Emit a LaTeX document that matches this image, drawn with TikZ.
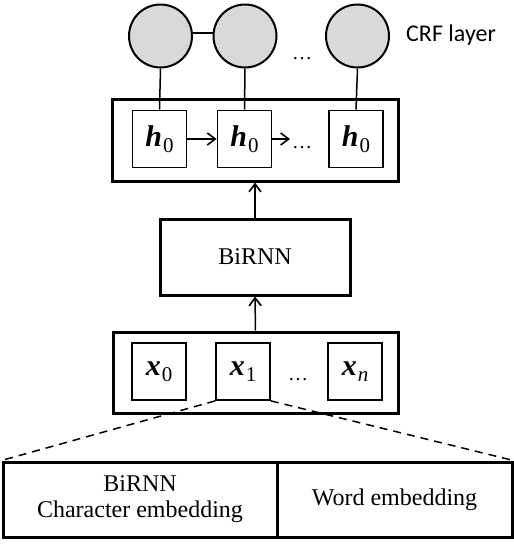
\documentclass[tikz,border=0pt]{standalone}
\usepackage{fontspec}
\setmainfont{Liberation Serif}
\newfontfamily\crffont{Carlito}
\usetikzlibrary{arrows.meta}
\newcommand{\vsym}[2]{\textbf{\textit{#1}}\kern1pt\raisebox{-6pt}{\fontsize{21}{23}\selectfont #2}}
\begin{document}
\begin{tikzpicture}[x=1pt,y=-1pt,
  outer/.style={draw, line width=3pt, inner sep=0pt},
  inner/.style={draw, line width=1.8pt, minimum width=54pt, minimum height=57pt, inner sep=0pt, font=\fontsize{30}{34}\selectfont},
  crf/.style={circle, draw, line width=2pt, fill={rgb,255:red,217;green,217;blue,217}, minimum size=63pt, inner sep=0pt},
  conn/.style={line width=1.5pt},
  arr/.style={conn, -{Straight Barb[length=8pt,width=12pt,line width=1.6pt]}},
  dashconn/.style={line width=1.5pt, dash pattern=on 8pt off 6pt},
  lbl/.style={font=\fontsize{24}{26}\selectfont, align=center},
  dotsl/.style={font=\fontsize{20}{24}\selectfont, inner sep=0pt}
]
\useasboundingbox (0,0) rectangle (514,544);

% CRF layer
\node[crf] (c1) at (160.5,36) {};
\node[crf] (c2) at (245,36) {};
\node[crf] (c3) at (357.5,36) {};
\node[dotsl] (cdots) at (302,59) {\dots};
\node[font=\crffont\fontsize{24}{28}\selectfont, anchor=west, inner sep=0pt] (crflabel) at (406,35) {CRF layer};
\draw[conn] ([yshift=3pt]c1.east) -- ([yshift=3pt]c2.west);

% top box
\node[outer, minimum width=286pt, minimum height=82pt] (top) at (255,140) {};
\node[inner] (h1) at (159.5,139) {\vsym{h}{0}};
\node[inner] (h2) at (244.5,139) {\vsym{h}{0}};
\node[inner] (h3) at (356,139) {\vsym{h}{0}};
\coordinate (hend) at (290,139);
\node[dotsl] (hdots) at (302,148) {\dots};
\draw[arr] (h1.east) -- (h2.west);
\draw[arr] (h2.east) -- (hend);
\draw[conn] (c1.south) -- (h1.north);
\draw[conn] (c2.south) -- (h2.north);
\draw[conn] (c3.south) -- (h3.north);

% BiRNN
\node[outer, minimum width=190pt, minimum height=76pt, lbl] (birnn) at (255,257) {BiRNN};
\draw[arr] (birnn.north) -- (top.south);

% bottom box
\node[outer, minimum width=285pt, minimum height=81pt] (bottom) at (255.5,372.5) {};
\node[inner] (x0) at (159,371.5) {\vsym{x}{0}};
\node[inner] (x1) at (243,371.5) {\vsym{x}{1}};
\node[inner] (xn) at (355,371.5) {\vsym{x}{\textit{n}}};
\node[dotsl] (xdots) at (298,380) {\dots};
\draw[arr] (bottom.north) -- (birnn.south);

% table
\node[outer, minimum width=274pt, minimum height=75pt, lbl] (left) at (140,499.5) {BiRNN\\Character embedding};
\node[outer, minimum width=235pt, minimum height=75pt, lbl] (right) at (394.5,499.5) {Word embedding};
\draw[dashconn] (x1.south west) -- (left.north west);
\draw[dashconn] (x1.south east) -- (right.north east);
\end{tikzpicture}
\end{document}
